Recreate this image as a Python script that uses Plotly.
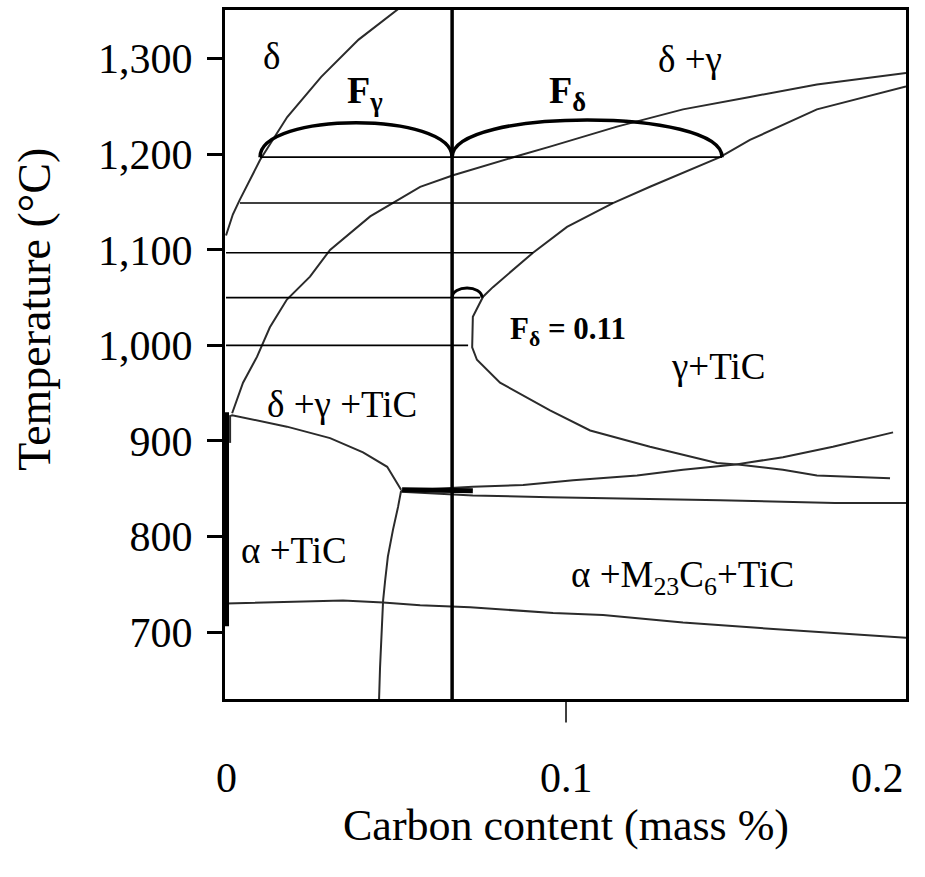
import plotly.graph_objects as go

FONT = "Liberation Serif, Times New Roman, serif"

# ---------------- axes ----------------
x_tick_vals = [0, 0.1, 0.2]
x_tick_text = ["0", "0.1", "0.2"]
x_tick_anchor = ["center", "center", "right"]
y_tick_vals = [700, 800, 900, 1000, 1100, 1200, 1300]
x_range = [-0.0003, 0.2]
y_range = [630, 1351]

# ---------------- phase boundaries (C mass %, T °C) ----------------
# delta / (delta+gamma)
delta_x = [0.0, 0.002, 0.004, 0.010, 0.018, 0.028, 0.039, 0.051]
delta_T = [1115, 1137, 1152, 1194, 1239, 1281, 1320, 1353]

# (delta+gamma) / (delta+gamma+TiC) upper boundary
dg_x = [0.0018, 0.005, 0.0091, 0.0129, 0.0179, 0.0247, 0.0306, 0.0424, 0.0571,
        0.0668, 0.0865, 0.0953, 0.115, 0.1344, 0.1541, 0.1738, 0.2]
dg_T = [929, 961, 988, 1019, 1048, 1072, 1100, 1135, 1166,
        1178, 1199, 1208, 1229, 1247, 1260, 1273, 1285]

# gamma+TiC boundary (C-shaped)
gt_x = [0.2, 0.1738, 0.1541, 0.1453, 0.1247, 0.1138, 0.1003, 0.0903, 0.0785, 0.0756,
        0.0726, 0.0724, 0.0738, 0.0806, 0.0953, 0.1071, 0.1247, 0.1444, 0.1512,
        0.1638, 0.1738, 0.1953]
gt_T = [1271, 1247, 1215, 1197, 1166, 1149, 1124, 1097, 1061, 1051,
        1030, 998, 985, 961, 932, 911, 894, 877, 875,
        870, 864, 861]

# rising line from eutectoid junction
rise_x = [0.0515, 0.0726, 0.0874, 0.1021, 0.1209, 0.1344, 0.1491, 0.1638, 0.1785, 0.1962]
rise_T = [848, 852, 854, 859, 864, 870, 875, 883, 894, 909]

# lower nearly flat line
flat_x = [0.0515, 0.0726, 0.0953, 0.1453, 0.1791, 0.2]
flat_T = [847, 843, 841, 838, 835, 835]

# (delta+gamma+TiC) / (alpha+TiC) lower boundary
low_x = [0.0012, 0.0018, 0.0179, 0.0306, 0.0403, 0.0474, 0.0515]
low_T = [926, 927, 915, 903, 888, 873, 849]

# alpha+TiC / alpha+M23C6+TiC boundary (near vertical)
vert_x = [0.0515, 0.0506, 0.0491, 0.0476, 0.0468, 0.0462, 0.0453, 0.0450]
vert_T = [848, 831, 807, 779, 754, 733, 663, 628]

# lower line near 730 °C
l730_x = [0.0, 0.0344, 0.0462, 0.0571, 0.0718, 0.0865, 0.0962, 0.1109, 0.1344, 0.1541, 0.1738, 0.2]
l730_T = [730, 733, 731, 728, 726, 722, 720, 718, 710, 705, 700, 694]

# small vertical piece at left
left_x = [0.0012, 0.0012]
left_T = [927, 898]

# thick segments
thick_junction_x = [0.0518, 0.0726]
thick_junction_T = [849, 848]
thick_left_x = [0.0, 0.0]
thick_left_T = [930, 706]

# tie lines
tie_T = [1197, 1149, 1097, 1050, 1000]
tie_x0 = [0.010, 0.0041, 0.0, 0.0, 0.0]
tie_x1 = [0.1459, 0.1138, 0.0903, 0.0747, 0.0712]

# alloy composition line
alloy_C = 0.0665

# lever-rule arcs: (x0, x1, T base, height)
arcs = [(0.010, 0.0665, 1197, 36), (0.0665, 0.1459, 1197, 39), (0.0665, 0.0753, 1050, 10)]

# labels: (text, x, T, size, bold)
labels = [
    ("δ", 0.0135, 1302, 37, False),
    ("F<sub>γ</sub>", 0.041, 1264, 38, True),
    ("F<sub>δ</sub>", 0.1003, 1264, 38, True),
    ("δ +γ", 0.1365, 1299, 37, False),
    ("F<sub>δ</sub> = 0.11", 0.1006, 1015, 31, True),
    ("γ+TiC", 0.1447, 978, 37, False),
    ("δ +γ +TiC", 0.0341, 938, 37, False),
    ("α +TiC", 0.020, 785, 37, False),
    ("α +M<sub>23</sub>C<sub>6</sub>+TiC", 0.1344, 757, 37, False),
]

fig = go.Figure()
LINE = dict(color="#2b2b2b", width=2)


def add_line(x, y, line):
    fig.add_trace(go.Scatter(x=x, y=y, mode="lines", line=line,
                             showlegend=False, hoverinfo="skip"))


for xs, ys in [(delta_x, delta_T), (dg_x, dg_T), (gt_x, gt_T), (rise_x, rise_T),
               (flat_x, flat_T), (low_x, low_T), (vert_x, vert_T), (l730_x, l730_T),
               (left_x, left_T)]:
    add_line(xs, ys, LINE)

add_line(thick_junction_x, thick_junction_T, dict(color="black", width=5))
add_line(thick_left_x, thick_left_T, dict(color="black", width=6))

for t, a, b in zip(tie_T, tie_x0, tie_x1):
    add_line([a, b], [t, t], dict(color="black", width=1.6))

shapes = []
shapes.append(dict(type="line", xref="x", yref="paper", x0=alloy_C, x1=alloy_C, y0=0, y1=1,
                   line=dict(color="black", width=3.5)))
# tick mark for 0.1
shapes.append(dict(type="line", xref="x", yref="paper", x0=x_tick_vals[1], x1=x_tick_vals[1],
                   y0=0, y1=-0.034, line=dict(color="black", width=1.5)))
for x0, x1, tb, h in arcs:
    c = tb + h * 4 / 3
    path = f"M {x0},{tb} C {x0},{c} {x1},{c} {x1},{tb}"
    shapes.append(dict(type="path", xref="x", yref="y", path=path,
                       line=dict(color="black", width=3.5 if h > 20 else 3)))

annotations = []
for text, x, t, size, bold in labels:
    annotations.append(dict(x=x, y=t, xref="x", yref="y", showarrow=False,
                            text=f"<b>{text}</b>" if bold else text,
                            font=dict(family=FONT, size=size, color="black")))
# x tick labels (placed on the x axis scale)
for v, txt, anc in zip(x_tick_vals, x_tick_text, x_tick_anchor):
    annotations.append(dict(x=v, y=-0.1147, xref="x", yref="paper", showarrow=False,
                            text=txt, xanchor=anc, yanchor="middle",
                            font=dict(family=FONT, size=42, color="black")))
annotations.append(dict(x=0.5, y=-0.183, xref="paper", yref="paper", showarrow=False,
                        text="Carbon content (mass %)", yanchor="middle",
                        font=dict(family=FONT, size=44, color="black")))
annotations.append(dict(x=-0.279, y=0.565, xref="paper", yref="paper", showarrow=False,
                        text="Temperature (°C)", textangle=-90, xanchor="center", yanchor="middle",
                        font=dict(family=FONT, size=46, color="black")))

fig.update_layout(
    width=925, height=877,
    margin=dict(l=225, r=19, t=10, b=178, autoexpand=False),
    paper_bgcolor="white", plot_bgcolor="white",
    shapes=shapes, annotations=annotations,
    xaxis=dict(range=x_range, tickvals=x_tick_vals, showticklabels=False, ticks="",
               showline=True, linewidth=3, linecolor="black", mirror=True,
               showgrid=False, zeroline=False, automargin=False),
    yaxis=dict(range=y_range, tickvals=y_tick_vals, tickformat=",d", ticks="outside",
               ticklen=15, tickwidth=3, tickcolor="black",
               showline=True, linewidth=3, linecolor="black", mirror=True,
               showgrid=False, zeroline=False, ticklabelstandoff=6, automargin=False,
               tickfont=dict(family=FONT, size=42, color="black")),
)

fig.write_html("out.html")
